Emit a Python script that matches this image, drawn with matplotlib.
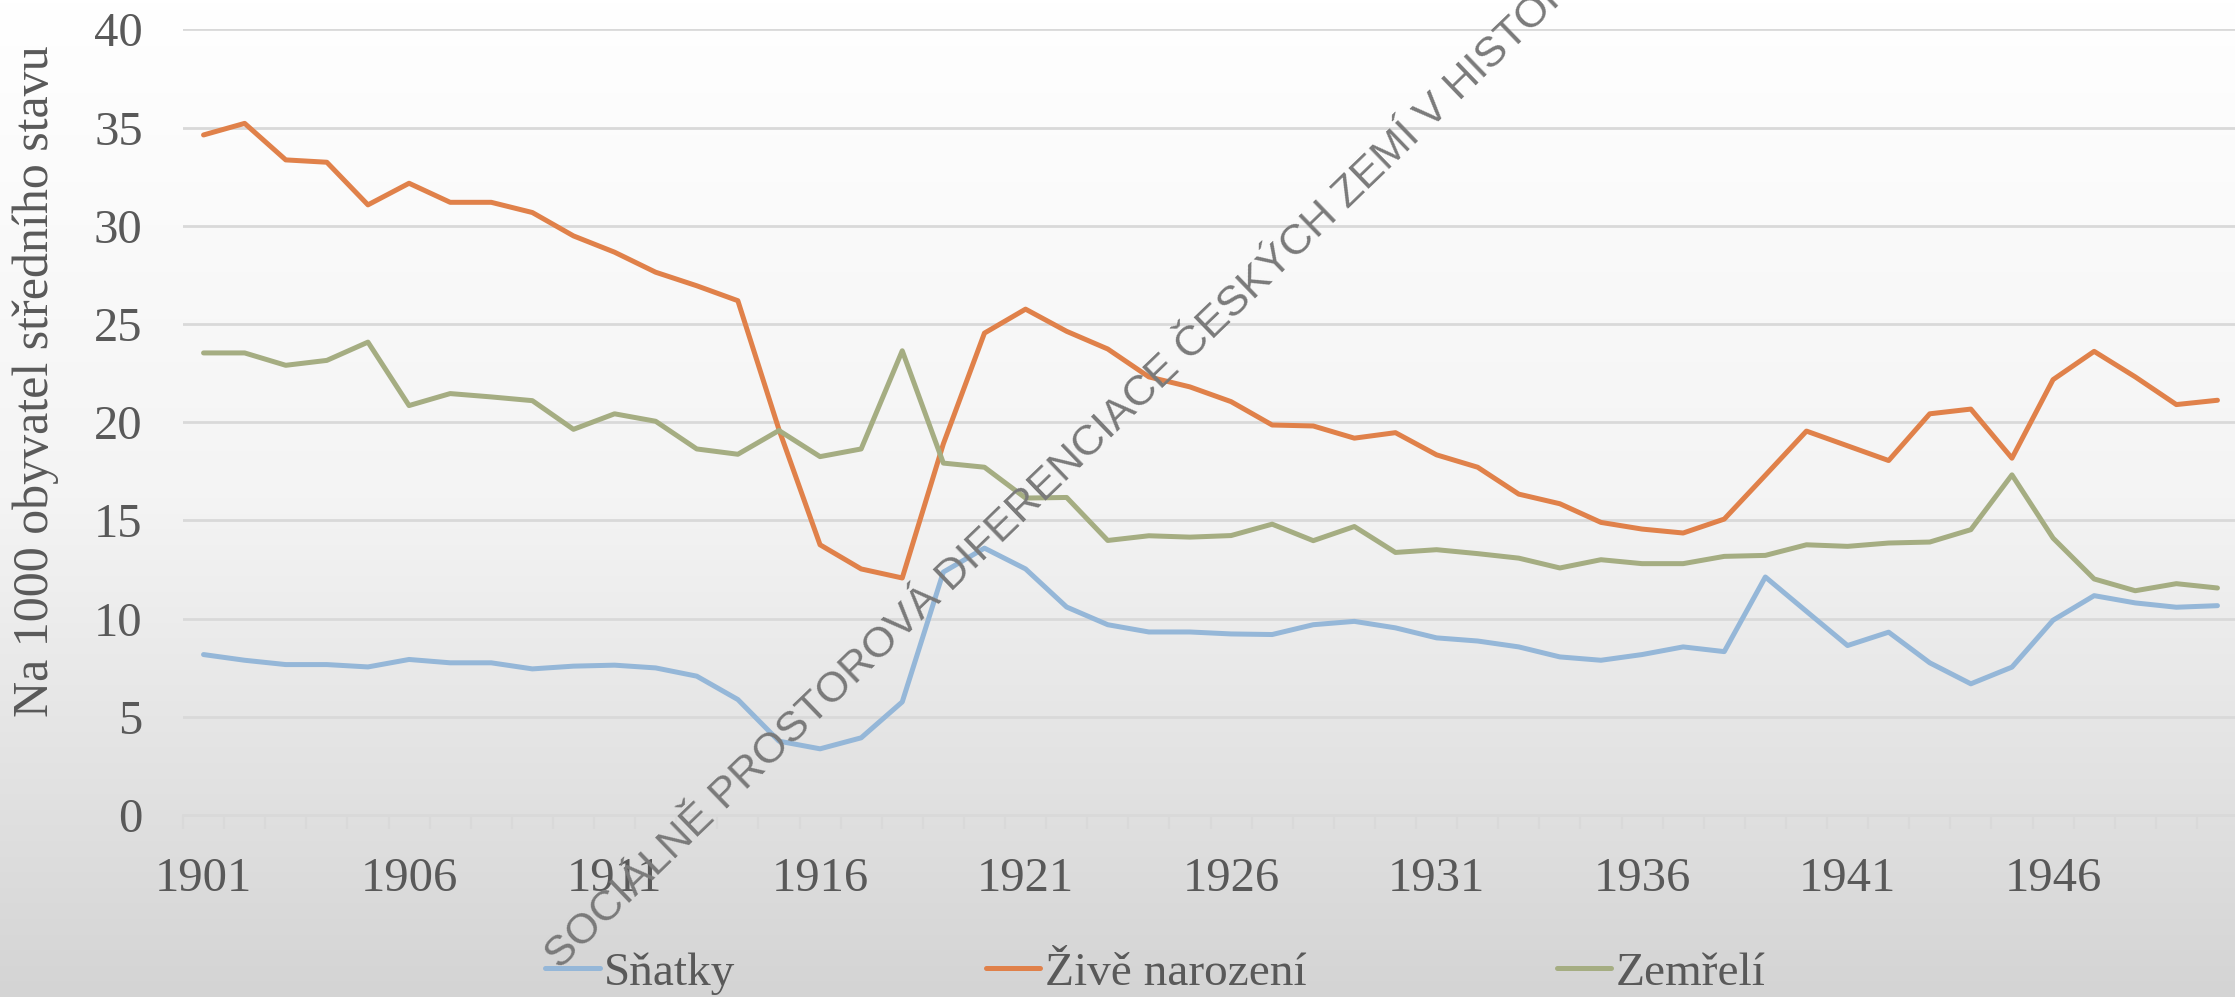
import numpy as np
import matplotlib
matplotlib.use('Agg')
import matplotlib.pyplot as plt
from matplotlib.colors import LinearSegmentedColormap

# data (per 1000 inhabitants)
years = list(range(1901, 1951))
snatky = [8.17, 7.88, 7.66, 7.66, 7.54, 7.92, 7.75, 7.75, 7.44, 7.58,
          7.63, 7.49, 7.07, 5.88, 3.76, 3.37, 3.93, 5.76, 12.37, 13.59,
          12.53, 10.59, 9.69, 9.32, 9.32, 9.22, 9.19, 9.69, 9.86, 9.53,
          9.02, 8.86, 8.56, 8.05, 7.88, 8.17, 8.56, 8.32, 12.12, 10.37,
          8.63, 9.31, 7.75, 6.68, 7.53, 9.92, 11.17, 10.80, 10.58, 10.66]
zive_narozeni = [34.63, 35.22, 33.36, 33.24, 31.07, 32.17, 31.20, 31.20, 30.68, 29.49,
                 28.66, 27.64, 26.95, 26.19, 19.63, 13.76, 12.53, 12.07, 18.90, 24.54,
                 25.76, 24.63, 23.73, 22.31, 21.80, 21.05, 19.86, 19.81, 19.19, 19.47,
                 18.34, 17.71, 16.34, 15.85, 14.90, 14.56, 14.36, 15.07, 17.30, 19.55,
                 18.80, 18.05, 20.43, 20.67, 18.17, 22.17, 23.61, 22.31, 20.90, 21.12]
zemreli = [23.53, 23.53, 22.90, 23.15, 24.08, 20.85, 21.46, 21.29, 21.10, 19.64,
           20.43, 20.05, 18.64, 18.37, 19.58, 18.25, 18.64, 23.64, 17.92, 17.71,
           16.14, 16.17, 13.98, 14.22, 14.15, 14.23, 14.81, 13.97, 14.69, 13.37,
           13.51, 13.31, 13.08, 12.58, 13.00, 12.80, 12.80, 13.17, 13.22, 13.76,
           13.68, 13.85, 13.90, 14.53, 17.32, 14.10, 12.02, 11.42, 11.78, 11.56]
series_names = ['Sňatky', 'Živě narození', 'Zemřelí']
series_colors = ['#95b7d8', '#e0814a', '#a5ad82']
label_years = years[::5]

serif = 'Liberation Serif'
text_col = '#595959'
grid_col = '#d9d9d9'

fig = plt.figure(figsize=(22.35, 9.97), dpi=100)

# background gradient, white at top to light grey at the bottom
bg = fig.add_axes([0, 0, 1, 1], zorder=-10)
cmap = LinearSegmentedColormap.from_list('bg', ['#ffffff', '#f4f4f4', '#d4d4d4'])
bg.imshow(np.linspace(0, 1, 256).reshape(-1, 1), cmap=cmap, aspect='auto',
          extent=[0, 1, 0, 1])
bg.axis('off')

ax = fig.add_axes([183 / 2235, 182 / 997, (2238 - 183) / 2235, (967.5 - 182) / 997])
ax.set_facecolor('none')

for vals, name, col in zip([snatky, zive_narozeni, zemreli], series_names, series_colors):
    ax.plot(years, vals, color=col, lw=3.6, label=name,
            solid_capstyle='round', solid_joinstyle='round')

ax.set_xlim(1900.5, 1950.5)
ax.set_ylim(0, 40)
ax.set_yticks(range(0, 41, 5))
ax.grid(axis='y', color=grid_col, lw=2)
ax.set_axisbelow(True)
for s in ['top', 'right', 'left']:
    ax.spines[s].set_visible(False)
ax.spines['bottom'].set_color(grid_col)
ax.spines['bottom'].set_linewidth(2)

ax.set_xticks(label_years)
ax.set_xticklabels([str(y) for y in label_years])
ax.set_xticks(np.arange(1900.5, 1951, 1), minor=True)
ax.tick_params(axis='x', which='major', length=0, pad=30)
ax.tick_params(axis='x', which='minor', length=10, width=1.5, color=grid_col)
ax.tick_params(axis='y', length=0, pad=29)
for lab in ax.get_xticklabels() + ax.get_yticklabels():
    lab.set_fontfamily(serif)
    lab.set_fontsize(35)
    lab.set_color(text_col)

fig.text(36 / 2235, 1 - 381 / 997, 'Na 1000 obyvatel středního stavu', rotation=90,
         ha='center', va='center', fontsize=36, family=serif, color=text_col)

leg = ax.legend(loc='center', bbox_to_anchor=(0.517, 0.024), bbox_transform=fig.transFigure,
                ncol=3, frameon=False, prop={'family': serif, 'size': 34},
                handlelength=1.15, handletextpad=0.1, columnspacing=5.3, borderpad=0)
for t in leg.get_texts():
    t.set_color(text_col)

# diagonal watermark
fig.text(560 / 2235, 1 - 970 / 997, 'SOCIÁLNĚ PROSTOROVÁ DIFERENCIACE ČESKÝCH ZEMÍ V HISTORII',
         rotation=44, rotation_mode='anchor', ha='left', va='baseline',
         fontsize=31, family='Liberation Sans', color='#7a7a7a', zorder=10)

fig.savefig('out.png', dpi=100)
